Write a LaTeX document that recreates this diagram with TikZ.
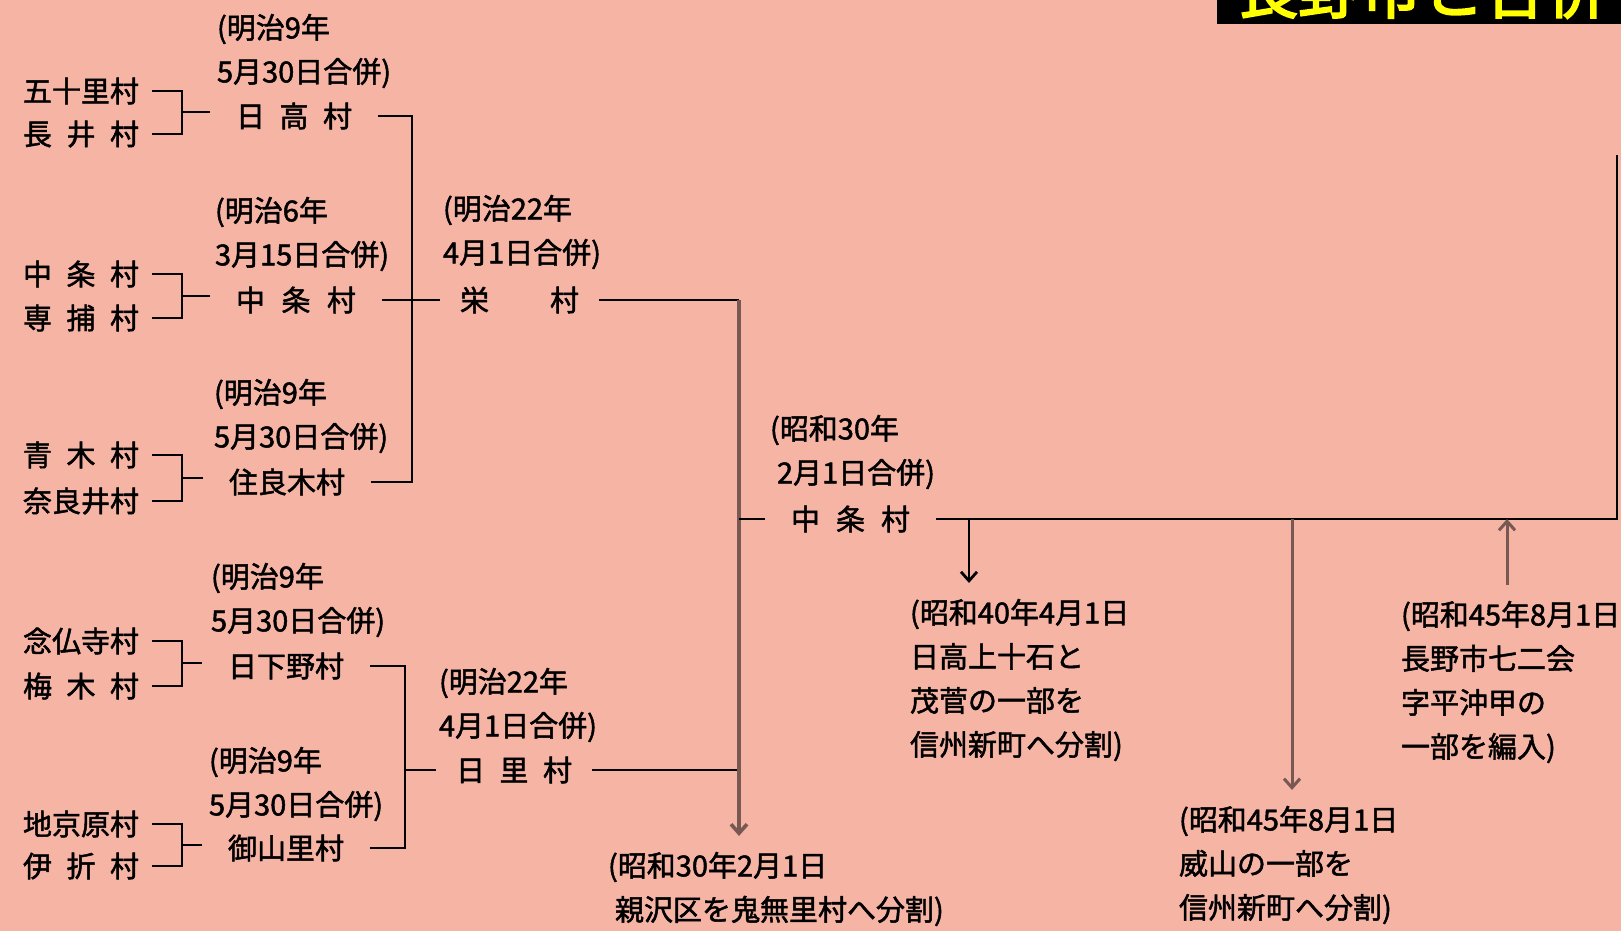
\documentclass[tikz,border=0pt]{standalone}
\usepackage{fontspec}
\usetikzlibrary{arrows.meta}
\newfontfamily\jp[FakeBold=1.6]{Noto Sans CJK JP}
\newfontfamily\jpttl[FakeBold=3]{Noto Sans CJK JP}
\definecolor{bgpink}{RGB}{246,180,165}
\definecolor{brn}{RGB}{120,88,82}
\definecolor{ttlyellow}{RGB}{255,255,0}
\newcommand\spr[2]{\makebox[#1pt][s]{#2}}
\tikzset{
  txt/.style={inner sep=0pt, outer sep=0pt, anchor=west, font=\jp\fontsize{29}{44}\selectfont},
  lname/.style={txt, outer xsep=13pt},
  mname/.style={txt, outer xsep=26pt},
  rname/.style={txt, outer xsep=20pt},
  datelbl/.style={txt, align=left},
  note/.style={txt, align=left, outer ysep=16pt},
  ln/.style={line width=2.8pt, black},
  gl/.style={line width=3pt, brn},
  tip/.style={-{Straight Barb[length=9pt,width=16pt]}},
  tipback/.style={{Straight Barb[length=9pt,width=16pt]}-}
}
\begin{document}
\begin{tikzpicture}[x=1pt,y=-1pt]
\useasboundingbox (0,0) rectangle (1621,931);
\fill[bgpink] (0,0) rectangle (1621,931);

% title box (cut off at the top edge, as in the reference)
\begin{scope}
\clip (1217,0) rectangle (1621,24);
\fill[black] (1217,0) rectangle (1621,24);
\node[inner sep=0pt, anchor=base west, text=ttlyellow, font=\jpttl\fontsize{62}{62}\selectfont] (title) at (1236,13) {長野市と合併};
\end{scope}

% left villages
\node[lname] (a1) at (10,91) {\spr{116}{五十里村}};
\node[lname] (a2) at (10,134) {\spr{116}{長\hfill 井\hfill 村}};
\node[lname] (a3) at (10,274) {\spr{116}{中\hfill 条\hfill 村}};
\node[lname] (a4) at (10,318) {\spr{116}{専\hfill 捕\hfill 村}};
\node[lname] (a5) at (10,455) {\spr{116}{青\hfill 木\hfill 村}};
\node[lname] (a6) at (10,501) {\spr{116}{奈良井村}};
\node[lname] (a7) at (10,641) {\spr{116}{念仏寺村}};
\node[lname] (a8) at (10,686) {\spr{116}{梅\hfill 木\hfill 村}};
\node[lname] (a9) at (10,824) {\spr{116}{地京原村}};
\node[lname] (a10) at (10,866) {\spr{116}{伊\hfill 折\hfill 村}};

% second level
\node[mname] (b1) at (210,116) {\spr{116}{日\hfill 高\hfill 村}};
\node[mname] (b2) at (210,300) {\spr{120}{中\hfill 条\hfill 村}};
\node[mname] (b3) at (203,482) {\spr{116}{住良木村}};
\node[mname] (b4) at (202,666) {\spr{116}{日下野村}};
\node[mname] (b5) at (202,848) {\spr{116}{御山里村}};

% date labels
\node[datelbl] (l1) at (217,51) {(明治9年\\5月30日合併)};
\node[datelbl] (l2) at (215,234) {(明治6年\\3月15日合併)};
\node[datelbl] (l3) at (214,416) {(明治9年\\5月30日合併)};
\node[datelbl] (l4) at (211,600) {(明治9年\\5月30日合併)};
\node[datelbl] (l5) at (209,784) {(明治9年\\5月30日合併)};
\node[datelbl] (l6) at (443,232) {(明治22年\\4月1日合併)};
\node[datelbl] (l7) at (439,705) {(明治22年\\4月1日合併)};
\node[datelbl] (l8) at (770,452) {(昭和30年\\\hspace{7pt}2月1日合併)};

% third level
\node[rname] (c1) at (440,300) {\spr{119}{栄\hfill 村}};
\node[rname] (c2) at (436,770) {\spr{116}{日\hfill 里\hfill 村}};
\node[mname] (d) at (765,519) {\spr{119}{中\hfill 条\hfill 村}};

% notes
\node[note] (n1) at (910,680) {(昭和40年4月1日\\日高上十石と\\茂菅の一部を\\信州新町へ分割)};
\node[note] (n2) at (1179,865) {(昭和45年8月1日\\威山の一部を\\信州新町へ分割)};
\node[note] (n3) at (1401,682) {(昭和45年8月1日\\長野市七二会\\字平沖甲の\\一部を編入)};
\node[note] (n4) at (608,889) {(昭和30年2月1日\\\hspace{7pt}親沢区を鬼無里村へ分割)};

% junction coordinates
\coordinate (j1) at (182,112);
\coordinate (j2) at (182,296);
\coordinate (j3) at (182,478);
\coordinate (j4) at (182,663);
\coordinate (j5) at (182,845);
\coordinate (k1) at (412,300);
\coordinate (k2) at (405,770);
\coordinate (m1) at (739,300);
\coordinate (r1) at (1617,519);
\coordinate (r0) at (1617,155);
\coordinate (t1) at (969,519);
\coordinate (t2) at (1292,519);
\coordinate (t3) at (1507,519);

% brackets, first level
\draw[ln] (a1.east) -| (j1) |- (a2.east);
\draw[ln] (j1) -- (j1 -| b1.west);
\draw[ln] (a3.east) -| (j2) |- (a4.east);
\draw[ln] (j2) -- (j2 -| b2.west);
\draw[ln] (a5.east) -| (j3) |- (a6.east);
\draw[ln] (j3) -- (j3 -| b3.west);
\draw[ln] (a7.east) -| (j4) |- (a8.east);
\draw[ln] (j4) -- (j4 -| b4.west);
\draw[ln] (a9.east) -| (j5) |- (a10.east);
\draw[ln] (j5) -- (j5 -| b5.west);

% second level
\draw[ln] (b1.east) -| (k1) |- (b3.east);
\draw[ln] (b2.east) -- (c1.west);
\draw[ln] (b4.east) -| (k2) |- (b5.east);
\draw[ln] (k2) -- (c2.west);

% third level
\draw[ln] (c1.east) -- (m1);
\draw[ln] (c2.east) -- (c2.east -| m1);
\draw[gl, line width=3.6pt, tip] (m1) -- (m1 |- n4.north);
\draw[ln] (d.west) -- (d.west -| m1);
\draw[ln] (d.east) -- (r1) -- (r0);

% arrows to notes
\draw[ln, tip] (t1) -- (t1 |- n1.north);
\draw[gl, tip] (t2) -- (t2 |- n2.north);
\draw[gl, tipback] (t3) -- (t3 |- n3.north);
\end{tikzpicture}
\end{document}
